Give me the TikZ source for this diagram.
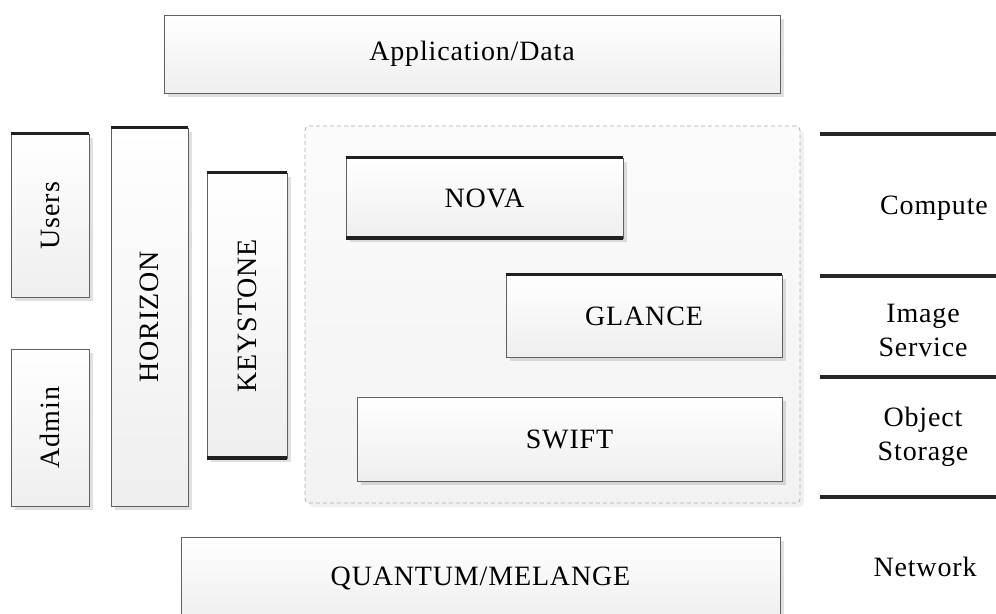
\documentclass[tikz,border=0pt]{standalone}
\usepackage{fontspec}
\setmainfont{Liberation Serif}[LetterSpace=3]
\usetikzlibrary{shadows}
\tikzset{
  layer/.style={draw=gray!75!black, top color=white, bottom color=gray!13, inner sep=0pt,
    drop shadow={shadow xshift=2pt, shadow yshift=-2pt, fill=black, opacity=0.12},
    font=\fontsize{14}{16}\selectfont},
  heavy/.style={line width=1.9pt, draw=gray!25!black},
  band/.style={draw=gray!30!black},
  side/.style={align=center, font=\fontsize{14}{17}\selectfont},
}
\begin{document}
\begin{tikzpicture}[x=0.5pt, y=-0.5pt]
	\clip (0,0) rectangle (996,614);
	\fill[white] (0,0) rectangle (996,614);
	% top and bottom layers
	\node[layer, minimum width=308pt, minimum height=39pt] (appdata) at (472,54) {Application/Data};
	\node[layer, minimum width=299.5pt, minimum height=41pt] (quantum) at (480.5,578) {QUANTUM/MELANGE};
	% left column
	\node[layer, minimum width=39pt, minimum height=81.5pt] (users) at (50,215.5) {\rotatebox{90}{Users}};
	\node[layer, minimum width=39pt, minimum height=78.5pt] (admin) at (50,427.5) {\rotatebox{90}{Admin}};
	\node[layer, minimum width=38.5pt, minimum height=189pt] (horizon) at (149.5,317) {\rotatebox{90}{HORIZON}};
	\node[layer, minimum width=40pt, minimum height=142.5pt] (keystone) at (247,315.5) {\rotatebox{90}{KEYSTONE}};
	% services
	\node[draw=gray!65, dash pattern=on 2pt off 1.5pt, rounded corners=2pt, top color=gray!3, bottom color=gray!10,
		minimum width=247.5pt, minimum height=188.5pt,
		drop shadow={shadow xshift=2pt, shadow yshift=-2pt, fill=black, opacity=0.06}] (services) at (552.5,314.5) {};
	\node[layer, minimum width=138.5pt, minimum height=40pt] (nova) at (484.5,198) {NOVA};
	\node[layer, minimum width=138pt, minimum height=41pt] (glance) at (644,316) {GLANCE};
	\node[layer, minimum width=212.5pt, minimum height=42pt] (swift) at (569.5,439) {SWIFT};
	% heavy edges
	\draw[heavy] (users.north west) -- (users.north east);
	\draw[heavy] (horizon.north west) -- (horizon.north east);
	\draw[heavy] (keystone.north west) -- (keystone.north east);
	\draw[heavy] (keystone.south west) -- (keystone.south east);
	\draw[heavy] (nova.north west) -- (nova.north east);
	\draw[heavy] (nova.south west) -- (nova.south east);
	\draw[heavy] (glance.north west) -- (glance.north east);
	% bands on the right
	\draw[band, line width=2.4pt] (820,134) -- (996,134);
	\draw[band, line width=1.6pt] (820,276) -- (996,276);
	\draw[band, line width=1.6pt] (820,377) -- (996,377);
	\draw[band, line width=2.4pt] (820,497) -- (996,497);
	\node[side] (compute) at (934,208) {Compute};
	\node[side] (image) at (923,330) {Image\\Service};
	\node[side] (object) at (923,437) {Object\\Storage};
	\node[side] (network) at (925,567) {Network};
\end{tikzpicture}
\end{document}
